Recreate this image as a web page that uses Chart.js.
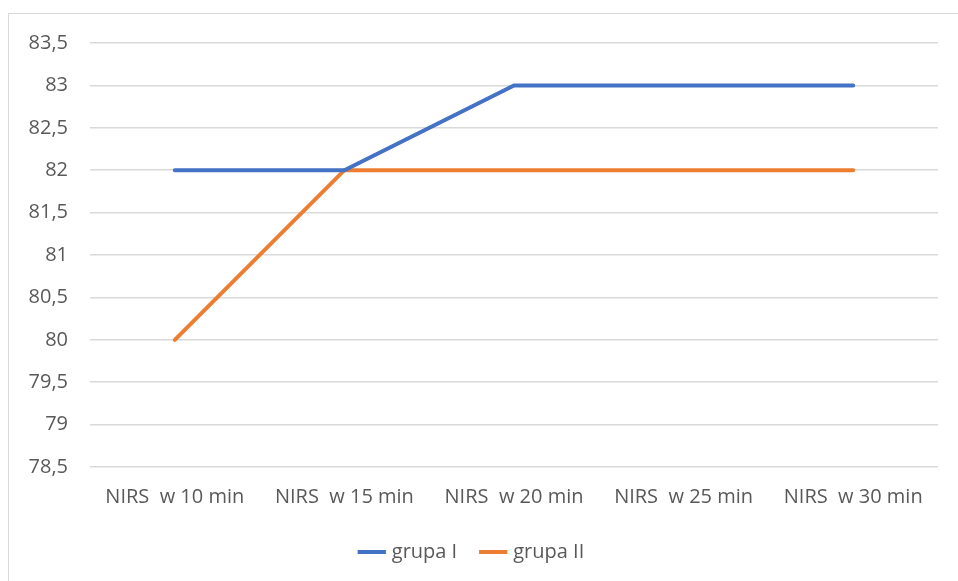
<!DOCTYPE html>
<html>
<head>
<meta charset="utf-8">
<script src="https://cdn.jsdelivr.net/npm/chart.js@4"></script>
<style>
    html, body { margin: 0; padding: 0; background: #fff; }
    #wrap { position: relative; width: 958px; height: 581px; }
    #frame { position: absolute; left: 8px; top: 13px; width: 960px; height: 580px; border: 1px solid #d9d9d9; box-sizing: border-box; }
    canvas { position: absolute; left: 0; top: 0; }
</style>
</head>
<body>
<div id="wrap">
    <div id="frame"></div>
    <canvas id="chart" width="958" height="581"></canvas>
</div>
<script>
// NIRS readings, two groups
const categories = ['NIRS  w 10 min', 'NIRS  w 15 min', 'NIRS  w 20 min', 'NIRS  w 25 min', 'NIRS  w 30 min'];
const grupaI = [82, 82, 83, 83, 83];
const grupaII = [80, 82, 82, 82, 82];
const yMin = 78.5;
const yMax = 83.5;
const yStep = 0.5;

const textColor = '#595959';
const gridColor = '#d9d9d9';
const fontFamily = '"Open Sans", "Liberation Sans", sans-serif';
const fontSize = 20;

const ctx = document.getElementById('chart').getContext('2d');
new Chart(ctx, {
    type: 'line',
    data: {
        labels: categories,
        datasets: [
            { label: 'grupa I', data: grupaI, borderColor: '#4472C4', backgroundColor: '#4472C4', borderWidth: 4, pointRadius: 0, borderCapStyle: 'round', tension: 0 },
            { label: 'grupa II', data: grupaII, borderColor: '#ED7D31', backgroundColor: '#ED7D31', borderWidth: 4, pointRadius: 0, borderCapStyle: 'round', tension: 0 }
        ]
    },
    options: {
        responsive: false,
        animation: false,
        layout: { padding: { left: 8, right: 20, top: 43, bottom: 9 } },
        plugins: {
            tooltip: { enabled: false },
            legend: {
                position: 'bottom',
                labels: {
                    usePointStyle: true,
                    pointStyle: 'line',
                    boxWidth: 55,
                    color: textColor,
                    padding: 26,
                    font: { family: fontFamily, size: fontSize }
                }
            }
        },
        scales: {
            x: {
                offset: true,
                grid: { display: false },
                border: { display: false },
                ticks: { color: textColor, padding: 10, maxRotation: 0, font: { family: fontFamily, size: fontSize } },
                afterFit: (scale) => { scale.height = 49; }
            },
            y: {
                min: yMin,
                max: yMax,
                grid: { color: gridColor, lineWidth: 1.5, drawTicks: false },
                border: { display: false },
                ticks: {
                    stepSize: yStep,
                    color: textColor,
                    padding: 22,
                    font: { family: fontFamily, size: fontSize },
                    callback: (v) => String(v).replace('.', ',')
                },
                afterFit: (scale) => { scale.width = 82; }
            }
        }
    }
});
</script>
</body>
</html>
